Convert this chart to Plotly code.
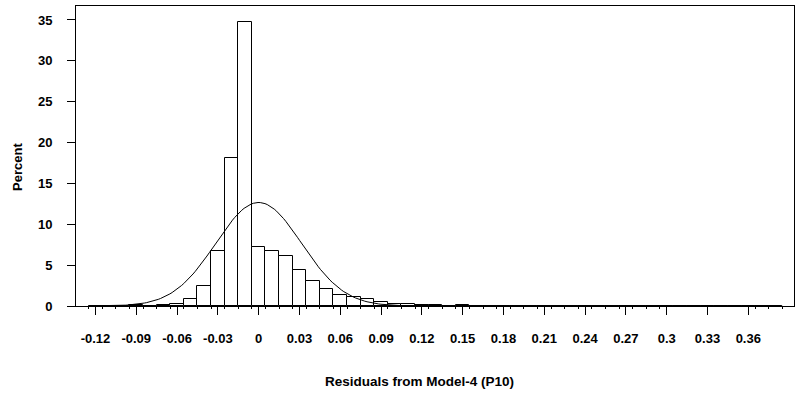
import numpy as np
import plotly.graph_objects as go

# Histogram of residuals: bin midpoints (width 0.01) and percent of observations
BIN_WIDTH = 0.01
bin_mid = [round(-0.12 + i * BIN_WIDTH, 2) for i in range(51)]
percent = [
    0.02, 0.02, 0.02, 0.10, 0.05, 0.15, 0.29, 0.80, 2.40, 6.75,   # -0.12 .. -0.03
    18.1, 34.7, 7.20, 6.70, 6.17, 4.46, 3.06, 2.02, 1.33, 1.15,   # -0.02 .. 0.07
    0.82, 0.47, 0.28, 0.27, 0.17, 0.15, 0.03, 0.17, 0.02, 0.02,   # 0.08 .. 0.17
    0.02, 0.02, 0.02, 0.02, 0.02, 0.02, 0.02, 0.02, 0.02, 0.02,   # 0.18 .. 0.27
    0.02, 0.02, 0.00, 0.00, 0.00, 0.00, 0.00, 0.00, 0.00, 0.02,   # 0.28 .. 0.37
    0.02,                                                         # 0.38
]

# Fitted normal curve parameters
MU = 0.0
SIGMA = 0.0315

x_tick_vals = [-0.12, -0.09, -0.06, -0.03, 0.0, 0.03, 0.06, 0.09, 0.12,
               0.15, 0.18, 0.21, 0.24, 0.27, 0.30, 0.33, 0.36]
x_tick_text = ["-0.12", "-0.09", "-0.06", "-0.03", "0", "0.03", "0.06", "0.09",
               "0.12", "0.15", "0.18", "0.21", "0.24", "0.27", "0.3", "0.33", "0.36"]
y_tick_vals = [0, 5, 10, 15, 20, 25, 30, 35]

# Outline edges of every populated bin show as small marks on the axis
edges = sorted({round(m + s * BIN_WIDTH / 2, 3)
                for m, p in zip(bin_mid, percent) if p > 0 for s in (-1, 1)})

curve_x = np.linspace(bin_mid[0] - BIN_WIDTH / 2, bin_mid[-1] + BIN_WIDTH / 2, 300)
curve_y = (100 * BIN_WIDTH / (SIGMA * np.sqrt(2 * np.pi))
           * np.exp(-0.5 * ((curve_x - MU) / SIGMA) ** 2))

FONT = "Liberation Sans, Arial, sans-serif"
TICK_FONT = dict(family=FONT, size=13, color="black", weight="bold")

fig = go.Figure()
fig.add_trace(go.Bar(
    x=bin_mid, y=percent, width=BIN_WIDTH,
    marker=dict(color="white", line=dict(color="black", width=1)),
    showlegend=False, hoverinfo="x+y",
))
fig.add_trace(go.Scatter(
    x=curve_x, y=curve_y, mode="lines",
    line=dict(color="black", width=1), showlegend=False, hoverinfo="skip",
))

axis_common = dict(
    showline=True, mirror=True, linecolor="black", linewidth=1,
    ticks="outside", ticklen=8, tickcolor="black", tickwidth=1,
    showgrid=False, zeroline=False,
    tickfont=TICK_FONT,
)

fig.update_layout(
    width=798, height=396,
    margin=dict(l=76, r=4, t=6, b=90, pad=0),
    paper_bgcolor="white", plot_bgcolor="white",
    bargap=0,
    xaxis=dict(
        range=[-0.1343, 0.3936],
        tickmode="array", tickvals=x_tick_vals, ticktext=x_tick_text,
        minor=dict(tickmode="array", tickvals=edges, ticks="outside",
                   ticklen=2, tickcolor="black", tickwidth=1, showgrid=False),
        ticklabelstandoff=12,
        **axis_common,
    ),
    yaxis=dict(
        range=[0, 36.71],
        tickmode="array", tickvals=y_tick_vals,
        ticklabelstandoff=12,
        **axis_common,
    ),
    annotations=[
        dict(text="Residuals from Model-4 (P10)", xref="paper", yref="paper",
             x=0.4784, y=-0.25, xanchor="center", yanchor="middle",
             showarrow=False,
             font=dict(family=FONT, size=13.5, color="black", weight="bold")),
        dict(text="Percent", xref="paper", yref="paper",
             x=-0.0815, y=0.465, xanchor="center", yanchor="middle",
             textangle=-90, showarrow=False,
             font=dict(family=FONT, size=13, color="black", weight="bold")),
    ],
)

fig.write_html("out.html")
